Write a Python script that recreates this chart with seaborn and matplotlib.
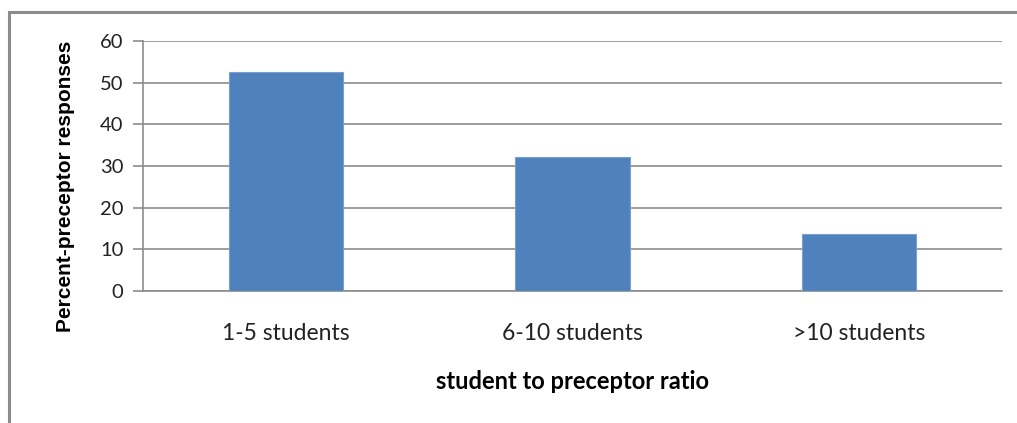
import matplotlib
matplotlib.use("Agg")
import matplotlib.pyplot as plt
from matplotlib.patches import Rectangle
import seaborn as sns
import pandas as pd

categories = ["1-5 students", "6-10 students", ">10 students"]
percent_responses = [52.5, 32.1, 13.6]
y_ticks = [0, 10, 20, 30, 40, 50, 60]

sns.set_theme(style="white")
plt.rcParams["font.family"] = ["Lato", "DejaVu Sans"]

df = pd.DataFrame({"ratio": categories, "percent": percent_responses})

fig = plt.figure(figsize=(10.17, 4.23), dpi=100)
fig.patch.set_facecolor("white")
ax = fig.add_axes([143 / 1017, 1 - 291 / 423, (1002 - 143) / 1017, 250 / 423])

sns.barplot(data=df, x="ratio", y="percent", color="#4F81BD", saturation=1,
            width=0.4, edgecolor="#7A9FCF", linewidth=0.8, ax=ax, zorder=3)

ax.set_xlim(-0.5, 2.5)
ax.set_ylim(0, 60)
ax.set_yticks(y_ticks)
ax.yaxis.grid(True, color="#8C8C8C", linewidth=1.2)
ax.set_axisbelow(True)

for side in ("top", "right"):
    ax.spines[side].set_visible(False)
for side in ("left", "bottom"):
    ax.spines[side].set_color("#8C8C8C")
    ax.spines[side].set_linewidth(1.2)

ax.tick_params(axis="y", which="both", left=True, length=7, width=1.2,
               color="#8C8C8C", labelsize=14.5, labelcolor="#222222", pad=7)
ax.tick_params(axis="x", bottom=False, labelsize=16.5, labelcolor="#222222", pad=17)

ax.set_xlabel("student to preceptor ratio", fontsize=17, fontweight="bold",
              color="black", labelpad=19)
ax.set_ylabel("Percent-preceptor responses", fontsize=15, fontweight="bold",
              color="black", family=["Liberation Sans", "DejaVu Sans"])
ax.yaxis.set_label_coords(-0.079, 0.42)

# outer frame of the chart area
fig.patches.append(Rectangle((9 / 1017, -0.2), 1.2, 1.2 - 12 / 423,
                             transform=fig.transFigure, fill=False,
                             edgecolor="#8C8C8C", linewidth=2.2))

fig.savefig("out.png", dpi=100)
